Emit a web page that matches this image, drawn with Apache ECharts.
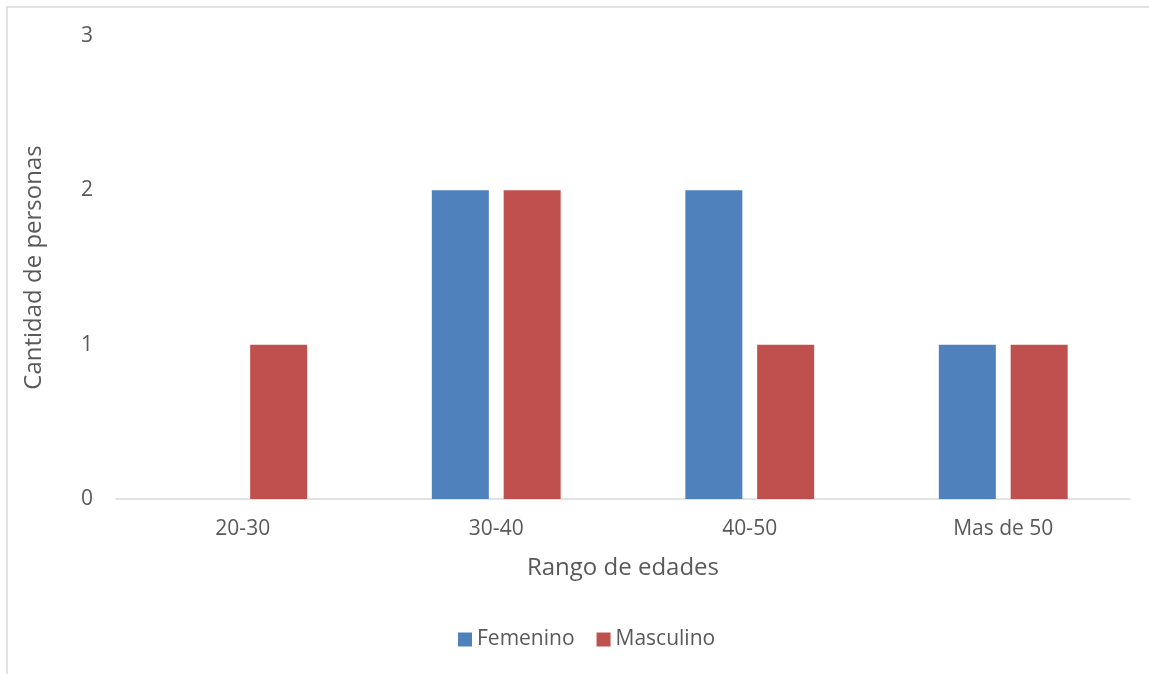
<!DOCTYPE html>
<html>
<head>
<meta charset="utf-8">
<script src="https://cdn.jsdelivr.net/npm/echarts@6/dist/echarts.min.js"></script>
<style>
  html, body { margin: 0; padding: 0; background: #ffffff; }
  #chart { width: 1149px; height: 674px; }
</style>
</head>
<body>
<div id="chart"></div>
<script>
// Age ranges and head counts by gender
const categories = ['20-30', '30-40', '40-50', 'Mas de 50'];
const femenino = [0, 2, 2, 1];
const masculino = [1, 2, 1, 1];
const yTicks = [0, 1, 2, 3];

const textColor = '#595959';
const fontFamily = 'Open Sans, Noto Sans, sans-serif';

const chart = echarts.init(document.getElementById('chart'), null, { renderer: 'canvas' });

chart.setOption({
  animation: false,
  backgroundColor: '#ffffff',
  textStyle: { fontFamily: fontFamily, color: textColor },
  graphic: [{
    type: 'rect',
    shape: { x: 7, y: 7, width: 1160, height: 700 },
    style: { fill: 'none', stroke: '#d9d9d9', lineWidth: 1.5 },
    silent: true
  }],
  grid: { left: 116, right: 19, top: 36, bottom: 175 },
  legend: {
    bottom: 19,
    left: 453,
    itemWidth: 14,
    itemHeight: 14,
    itemGap: 22,
    icon: 'rect',
    textStyle: { fontSize: 21, color: textColor, fontFamily: fontFamily },
    data: ['Femenino', 'Masculino']
  },
  xAxis: {
    type: 'category',
    data: categories,
    name: 'Rango de edades',
    nameLocation: 'middle',
    nameGap: 57,
    nameTextStyle: { fontSize: 24, color: textColor },
    axisLine: { lineStyle: { color: '#d9d9d9', width: 1.5 } },
    axisTick: { show: false },
    axisLabel: { fontSize: 21, color: textColor, margin: 20 }
  },
  yAxis: {
    type: 'value',
    min: yTicks[0],
    max: yTicks[yTicks.length - 1],
    interval: 1,
    name: 'Cantidad de personas',
    nameLocation: 'middle',
    nameGap: 70,
    nameRotate: 90,
    nameTextStyle: { fontSize: 24, color: textColor },
    axisLine: { show: false },
    axisTick: { show: false },
    splitLine: { show: false },
    axisLabel: { fontSize: 21, color: textColor, margin: 23 }
  },
  series: [
    {
      name: 'Femenino',
      type: 'bar',
      data: femenino,
      barWidth: 57,
      barGap: '26%',
      itemStyle: { color: '#4f81bd' }
    },
    {
      name: 'Masculino',
      type: 'bar',
      data: masculino,
      barWidth: 57,
      barGap: '26%',
      itemStyle: { color: '#c0504d' }
    }
  ]
});
</script>
</body>
</html>
